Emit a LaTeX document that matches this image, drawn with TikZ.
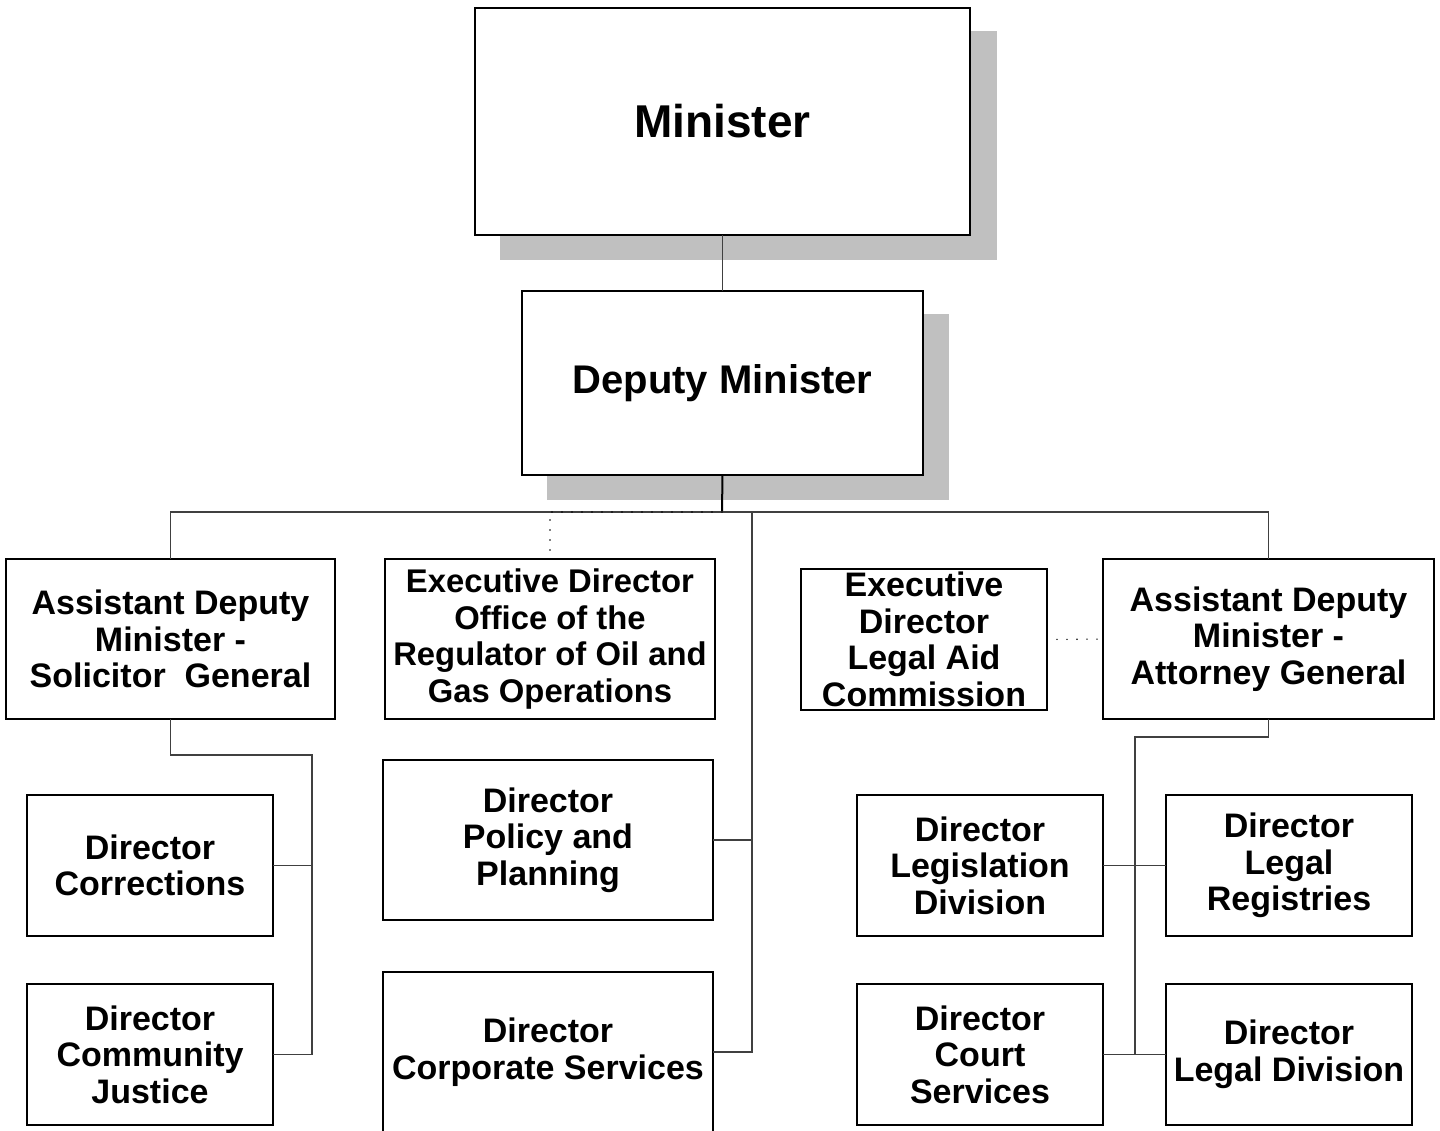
\documentclass[tikz,border=0pt]{standalone}
\usepackage{fontspec}
\setmainfont{Liberation Sans}
\usetikzlibrary{calc}

\begin{document}
\begin{tikzpicture}[x=0.5pt,y=-0.5pt,line cap=butt,line join=miter,
  font=\bfseries\fontsize{17pt}{18.3pt}\selectfont,
  box/.style={draw,line width=1pt,fill=white,align=center,inner sep=0pt,outer sep=0pt},
  smallbox/.style={box,minimum width=123pt,minimum height=70.5pt},
  widebox/.style={box,minimum width=165pt,minimum height=80pt},
  link/.style={black!75,line width=0.6pt},
  dotline/.style={line width=0.8pt,dash pattern=on 0pt off 5pt,line cap=round}]

  \useasboundingbox (0,0) rectangle (1440,1130);
  \clip (0,0) rectangle (1440,1130);

  \definecolor{shadowgray}{HTML}{C0C0C0}

  % shadows of the top boxes
  \fill[shadowgray] (500,31) rectangle (997,260);
  \fill[shadowgray] (547,314) rectangle (949,500);

  % top level
  \node[box,minimum width=247.5pt,minimum height=113.5pt,
    font=\bfseries\fontsize{23pt}{26pt}\selectfont] (min) at (722.5,121.5) {Minister};
  \node[box,minimum width=200.5pt,minimum height=92pt,
    font=\bfseries\fontsize{20pt}{23pt}\selectfont] (dep) at (722.5,383) {Deputy Minister};

  % second level
  \node[widebox,minimum width=164.5pt] (admsg) at (170.5,639)
    {Assistant Deputy\\Minister -\\Solicitor~ General};
  \node[widebox,font=\bfseries\fontsize{16.4pt}{18.2pt}\selectfont] (regul) at (550,639)
    {Executive Director\\Office of the\\Regulator of Oil and\\Gas Operations};
  \node[smallbox] (legaid) at (924,639.5)
    {Executive\\Director\\Legal Aid\\Commission};
  \node[widebox,minimum width=165.5pt] (admag) at (1268.5,639)
    {Assistant Deputy\\Minister -\\Attorney General};

  % directors
  \node[smallbox] (corr) at (150,865.5) {Director\\Corrections};
  \node[smallbox] (commj) at (150,1054.5) {Director\\Community\\Justice};
  \node[widebox] (policy) at (548,840) {Director\\Policy and\\Planning};
  \node[widebox] (corp) at (548,1052) {Director\\Corporate Services};
  \node[smallbox] (legis) at (980,865.5) {Director\\Legislation\\Division};
  \node[smallbox] (regis) at (1289,865.5) {Director\\Legal\\Registries};
  \node[smallbox] (court) at (980,1054.5) {Director\\Court\\Services};
  \node[smallbox] (legdiv) at (1289,1054.5) {Director\\Legal Division};

  % bus coordinates
  \coordinate (bus) at (722,512);
  \coordinate (ddbus) at (752,512);
  \coordinate (sgbus) at (312,755);
  \coordinate (agbus) at (1135,737);

  % minister to deputy
  \draw[link] (min.south) -- (dep.north);
  \draw[line width=1pt] (dep.south) -- (bus);

  % main horizontal bus
  \draw[link] (admsg.north) |- (bus) -| (admag.north);
  \draw[dotline] (bus) -| (regul.north);

  % directors reporting to deputy
  \draw[link] (ddbus) |- (corp.east);
  \draw[link] (policy.east) -- (policy.east -| ddbus);

  % solicitor general branch
  \draw[link] (admsg.south) |- (sgbus) |- (commj.east);
  \draw[link] (corr.east) -- (corr.east -| sgbus);

  % attorney general branch
  \draw[link] (admag.south) |- (agbus) |- (court.east);
  \draw[link] (legis.east) -- (regis.west);
  \draw[link] (court.east) -- (legdiv.west);

  % legal aid dotted link
  \draw[dotline] (legaid.east) -- (admag.west);
\end{tikzpicture}
\end{document}
